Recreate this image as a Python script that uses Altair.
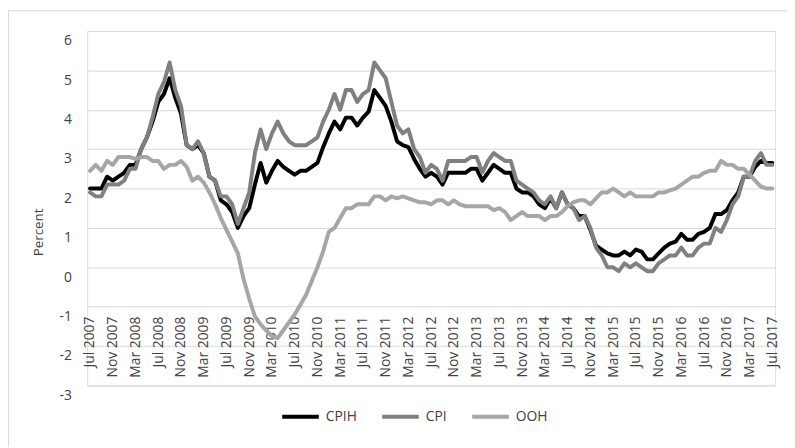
import altair as alt
import pandas as pd

month_names = ["Jan", "Feb", "Mar", "Apr", "May", "Jun",
               "Jul", "Aug", "Sep", "Oct", "Nov", "Dec"]
months = [f"{month_names[(6 + k) % 12]} {2007 + (6 + k) // 12}" for k in range(121)]
tick_labels = months[::4]

cpih = [
    2.0, 2.0, 2.0, 2.3, 2.2, 2.3,
    2.4, 2.6, 2.6, 3.0, 3.3, 3.7, 4.2, 4.4, 4.8, 4.3, 3.9, 3.1,
    3.0, 3.1, 2.9, 2.3, 2.2, 1.7, 1.6, 1.4, 1.0, 1.3, 1.5, 2.1,
    2.65, 2.15, 2.45, 2.7, 2.55, 2.45, 2.35, 2.45, 2.45, 2.55, 2.65, 3.05,
    3.4, 3.7, 3.5, 3.8, 3.8, 3.6, 3.8, 3.95, 4.5, 4.3, 4.1, 3.7,
    3.2, 3.1, 3.05, 2.75, 2.5, 2.3, 2.4, 2.3, 2.1, 2.4, 2.4, 2.4,
    2.4, 2.5, 2.5, 2.2, 2.4, 2.6, 2.5, 2.4, 2.4, 2.0, 1.9, 1.9,
    1.8, 1.6, 1.5, 1.75, 1.5, 1.9, 1.6, 1.5, 1.3, 1.3, 0.95, 0.55,
    0.45, 0.35, 0.3, 0.3, 0.4, 0.3, 0.45, 0.4, 0.2, 0.2, 0.35, 0.5,
    0.6, 0.65, 0.85, 0.7, 0.7, 0.85, 0.9, 1.0, 1.35, 1.35, 1.45, 1.7,
    1.9, 2.3, 2.3, 2.55, 2.7, 2.65, 2.65,
]

cpi = [
    1.9, 1.8, 1.8, 2.1, 2.1, 2.1,
    2.2, 2.5, 2.5, 3.0, 3.3, 3.8, 4.4, 4.7, 5.2, 4.5, 4.1, 3.1,
    3.0, 3.2, 2.9, 2.3, 2.2, 1.8, 1.8, 1.6, 1.1, 1.5, 1.9, 2.9,
    3.5, 3.0, 3.4, 3.7, 3.4, 3.2, 3.1, 3.1, 3.1, 3.2, 3.3, 3.7,
    4.0, 4.4, 4.0, 4.5, 4.5, 4.2, 4.4, 4.5, 5.2, 5.0, 4.8, 4.2,
    3.6, 3.4, 3.5, 3.0, 2.8, 2.4, 2.6, 2.5, 2.2, 2.7, 2.7, 2.7,
    2.7, 2.8, 2.8, 2.4, 2.7, 2.9, 2.8, 2.7, 2.7, 2.2, 2.1, 2.0,
    1.9, 1.7, 1.6, 1.8, 1.5, 1.9, 1.6, 1.5, 1.2, 1.3, 1.0, 0.5,
    0.3, 0.0, 0.0, -0.1, 0.1, 0.0, 0.1, 0.0, -0.1, -0.1, 0.1, 0.2,
    0.3, 0.3, 0.5, 0.3, 0.3, 0.5, 0.6, 0.6, 1.0, 0.9, 1.2, 1.6,
    1.8, 2.3, 2.3, 2.7, 2.9, 2.6, 2.6,
]

ooh = [
    2.45, 2.6, 2.45, 2.7, 2.6, 2.8,
    2.8, 2.8, 2.75, 2.8, 2.8, 2.7, 2.7, 2.5, 2.6, 2.6, 2.7, 2.55,
    2.2, 2.3, 2.15, 1.9, 1.6, 1.25, 0.95, 0.65, 0.35, -0.3, -0.8, -1.25,
    -1.45, -1.6, -1.75, -1.8, -1.6, -1.4, -1.2, -0.95, -0.7, -0.35, 0.0, 0.4,
    0.9, 1.0, 1.25, 1.5, 1.5, 1.6, 1.6, 1.6, 1.8, 1.8, 1.7, 1.8,
    1.75, 1.8, 1.75, 1.7, 1.65, 1.65, 1.6, 1.7, 1.7, 1.6, 1.7, 1.6,
    1.55, 1.55, 1.55, 1.55, 1.55, 1.45, 1.5, 1.4, 1.2, 1.3, 1.4, 1.3,
    1.3, 1.3, 1.2, 1.3, 1.3, 1.4, 1.55, 1.65, 1.7, 1.7, 1.6, 1.75,
    1.9, 1.9, 2.0, 1.9, 1.8, 1.9, 1.8, 1.8, 1.8, 1.8, 1.9, 1.9,
    1.95, 2.0, 2.1, 2.2, 2.3, 2.3, 2.4, 2.45, 2.45, 2.7, 2.6, 2.6,
    2.5, 2.5, 2.35, 2.2, 2.05, 2.0, 2.0,
]

series_names = ["CPIH", "CPI", "OOH"]
series_colors = ["#000000", "#808080", "#a6a6a6"]
series_widths = [4, 4, 2.5]
y_ticks = [-3, -2, -1, 0, 1, 2, 3, 4, 5, 6]

rows = []
for name, vals in zip(series_names, [cpih, cpi, ooh]):
    for m, v in zip(months, vals):
        rows.append({"month": m, "series": name, "value": v})
df = pd.DataFrame(rows)

FONT = "Open Sans"
TXT = "#404040"

x_enc = alt.X(
    "month:O", sort=months,
    scale=alt.Scale(type="point", padding=0.5),
    axis=alt.Axis(values=tick_labels, labelAngle=-90, ticks=False, domain=False,
                  grid=False, offset=-79, labelPadding=9, title=None,
                  labelFontSize=14, labelFont=FONT, labelColor=TXT),
)
y_enc = alt.Y(
    "value:Q",
    scale=alt.Scale(domain=[-3, 6], nice=False, zero=False),
    axis=alt.Axis(values=y_ticks, title="Percent", ticks=False, domain=False,
                  grid=True, gridColor="#d9d9d9", gridWidth=1,
                  labelExpr="datum.value + ''", labelOffset=10,
                  labelFontSize=14, labelFont=FONT, labelColor=TXT, labelPadding=16,
                  titleFont=FONT, titleFontSize=13.5, titleFontWeight="normal",
                  titleColor=TXT, titleX=-49, titleY=203, titleBaseline="middle"),
)
legend = alt.Legend(title=None, orient="none", direction="horizontal",
                    legendX=195, legendY=369, symbolType="stroke", symbolSize=1369,
                    labelFont=FONT, labelFontSize=14, labelColor=TXT,
                    columnPadding=17, labelOffset=5, padding=0)
color_enc = alt.Color("series:N", scale=alt.Scale(domain=series_names, range=series_colors),
                      legend=legend)
sw_enc = alt.StrokeWidth("series:N", scale=alt.Scale(domain=series_names, range=series_widths),
                         legend=legend)

layers = []
for name in series_names:
    layers.append(
        alt.Chart(df).transform_filter(alt.datum.series == name)
        .mark_line(strokeJoin="round", strokeCap="round")
        .encode(x=x_enc, y=y_enc, color=color_enc, strokeWidth=sw_enc)
    )

frame = pd.DataFrame({"k": [0]})
border_v = alt.Chart(frame).mark_rule(color="#d9d9d9", strokeWidth=1).encode(
    x=alt.value(-79.5), y=alt.value(-21), y2=alt.value(440))
border_h = alt.Chart(frame).mark_rule(color="#d9d9d9", strokeWidth=1).encode(
    x=alt.value(-80), x2=alt.value(720), y=alt.value(-20.5))

chart = alt.layer(border_v, border_h, *layers).properties(
    width=695, height=358,
    autosize=alt.AutoSizeParams(type="none"),
    padding={"left": 80, "top": 21, "right": 12, "bottom": 60},
).configure_view(stroke=None).configure(background="white")

chart.save("out.html", embed_options={"renderer": "svg", "actions": False})
